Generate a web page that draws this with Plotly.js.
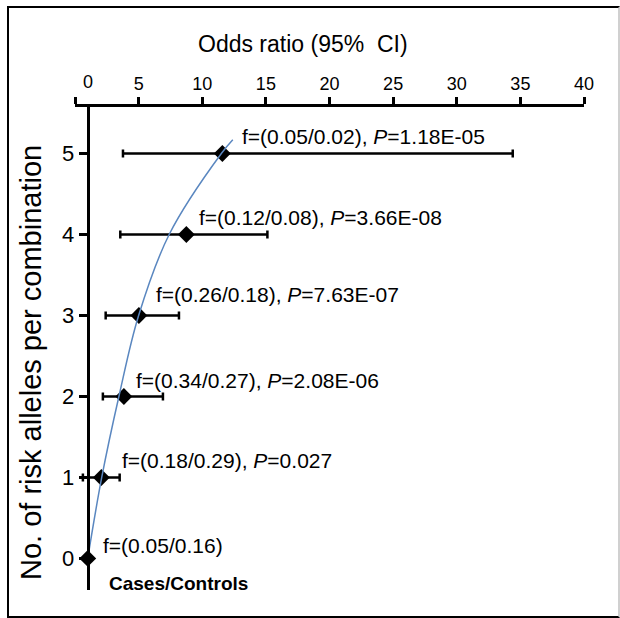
<!DOCTYPE html>
<html>
<head>
<meta charset="utf-8">
<script src="https://cdn.plot.ly/plotly-3.0.1.min.js"></script>
<style>
html,body{margin:0;padding:0;background:#fff;overflow:hidden;}
#frame{position:absolute;left:7px;top:6px;width:613px;height:612px;border:2px solid #000;border-right-color:#d0d0d0;box-sizing:border-box;}
#chart{position:absolute;left:0;top:0;width:620px;height:618px;}
</style>
</head>
<body>
<div id="frame"></div>
<div id="chart"></div>
<script>
// ---- data ----
const levels = [0, 1, 2, 3, 4, 5];                 // No. of risk alleles per combination
const oddsRatio = [1.0, 2.07, 3.84, 5.02, 8.75, 11.58];
const ciLower  = [1.0, 0.62, 2.19, 2.41, 3.56, 3.77];
const ciUpper  = [1.0, 3.51, 6.91, 8.17, 15.12, 34.4];
const freqLabels = [
  'f=(0.05/0.16)',
  'f=(0.18/0.29), <i>P</i>=0.027',
  'f=(0.34/0.27), <i>P</i>=2.08E-06',
  'f=(0.26/0.18), <i>P</i>=7.63E-07',
  'f=(0.12/0.08), <i>P</i>=3.66E-08',
  'f=(0.05/0.02), <i>P</i>=1.18E-05'
];
// fitted curve as drawn in the reference
const trendOR    = [1.0, 2.1, 3.45, 5.0, 7.4, 11.5, 12.4];
const trendLevel = [0, 1, 2, 3, 4, 5, 5.17];
const xTickVals = [0, 5, 10, 15, 20, 25, 30, 35, 40];
const xTickText = ['', '5', '10', '15', '20', '25', '30', '35', '40'];
const zeroTickLabel = '0';
const referenceOR = 1;
const xTitle = 'Odds ratio (95%\u00a0 CI)';
const yTitle = 'No. of risk alleles per combination';
const footNote = 'Cases/Controls';

// ---- styling / layout ----
const FONT = 'Liberation Sans, Arial, Helvetica, sans-serif';
const xRange = [0, 40];
const yRange = [-0.39, 5.575];
// label offsets (px) relative to each diamond: [dx, dy]
const labelOffsets = [[13, 13], [19, 17], [10, 16], [15, 21], [11, 17], [18, 17]];

const errPlus = oddsRatio.map((v, i) => ciUpper[i] - v);
const errMinus = oddsRatio.map((v, i) => v - ciLower[i]);

const traces = [
  {
    x: oddsRatio, y: levels, type: 'scatter', mode: 'markers',
    marker: {symbol: 'diamond', size: 13, color: '#000'},
    error_x: {type: 'data', symmetric: false, array: errPlus, arrayminus: errMinus,
              color: '#000', thickness: 2.5, width: 4},
    hoverinfo: 'skip', showlegend: false
  },
  {
    x: trendOR, y: trendLevel, type: 'scatter', mode: 'lines',
    line: {color: '#5a87c0', width: 1.5, shape: 'spline', smoothing: 1},
    hoverinfo: 'skip', showlegend: false
  }
];

const annotations = levels.map((lv, i) => ({
  x: oddsRatio[i], y: lv, xref: 'x', yref: 'y',
  text: freqLabels[i], showarrow: false,
  xanchor: 'left', yanchor: 'middle',
  xshift: labelOffsets[i][0], yshift: labelOffsets[i][1],
  font: {family: FONT, size: 21, color: '#000'}
}));
annotations.push({
  x: referenceOR, y: 1.051, xref: 'x', yref: 'paper', text: zeroTickLabel,
  showarrow: false, xanchor: 'center', yanchor: 'middle',
  font: {family: FONT, size: 18, color: '#000'}
});
annotations.push({
  x: 0.447, y: 1.13, xref: 'paper', yref: 'paper', text: xTitle,
  showarrow: false, xanchor: 'center', yanchor: 'middle',
  font: {family: FONT, size: 23, color: '#000'}
});
annotations.push({
  x: -0.0865, y: 0.472, xref: 'paper', yref: 'paper', text: yTitle,
  textangle: -90, showarrow: false, xanchor: 'center', yanchor: 'middle',
  font: {family: FONT, size: 29, color: '#000'}
});
annotations.push({
  x: 0.062, y: 0.014, xref: 'paper', yref: 'paper', text: '<b>' + footNote + '</b>',
  showarrow: false, xanchor: 'left', yanchor: 'middle',
  font: {family: FONT, size: 19, color: '#000'}
});

const layout = {
  width: 620, height: 618,
  margin: {l: 75, r: 36, t: 107, b: 28, pad: 0},
  paper_bgcolor: 'rgba(0,0,0,0)', plot_bgcolor: 'rgba(0,0,0,0)',
  font: {family: FONT, color: '#000'},
  showlegend: false,
  xaxis: {
    range: xRange, side: 'top', anchor: 'y',
    showline: true, linecolor: '#000', linewidth: 3,
    ticks: 'outside', ticklen: 7, tickwidth: 3, tickcolor: '#000',
    tickvals: xTickVals, ticktext: xTickText,
    tickfont: {family: FONT, size: 18, color: '#000'},
    showgrid: false, zeroline: false, fixedrange: true
  },
  xaxis2: {
    range: xRange, side: 'top', overlaying: 'x', anchor: 'y',
    showline: false, ticks: 'inside', ticklen: 7, tickwidth: 3, tickcolor: '#000',
    tickvals: xTickVals, showticklabels: false,
    showgrid: false, zeroline: false, fixedrange: true
  },
  yaxis: {
    range: yRange, anchor: 'free', position: (referenceOR - xRange[0]) / (xRange[1] - xRange[0]),
    showline: true, linecolor: '#000', linewidth: 3.5,
    ticks: 'outside', ticklen: 8, tickwidth: 2.5, tickcolor: '#000',
    tickvals: levels, tickfont: {family: FONT, size: 22, color: '#000'},
    showgrid: false, zeroline: false, fixedrange: true
  },
  annotations: annotations
};

Plotly.newPlot('chart', traces, layout, {staticPlot: true, displayModeBar: false});
</script>
</body>
</html>
